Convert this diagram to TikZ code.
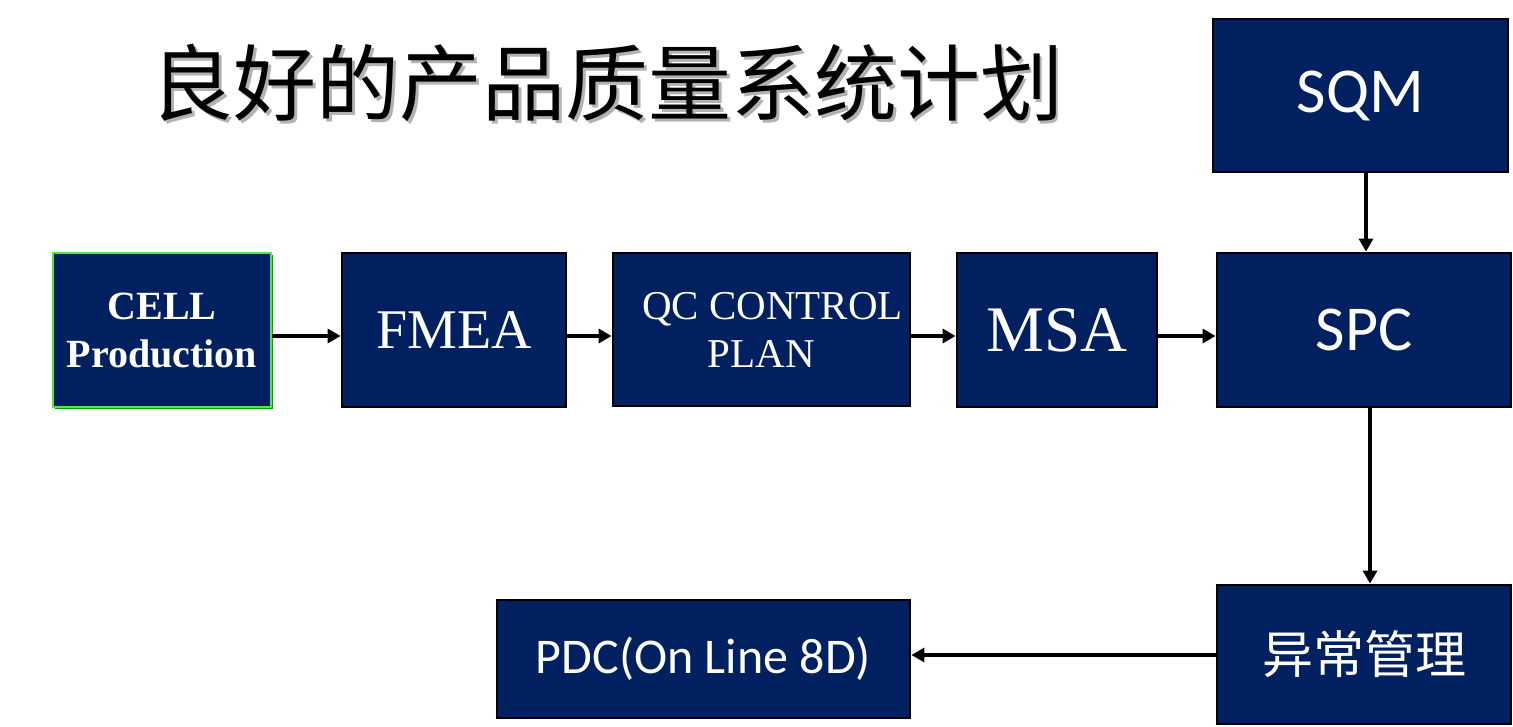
\documentclass[tikz,border=0pt]{standalone}
\usepackage{fontspec}
\setmainfont{Liberation Serif}
\newfontfamily\calfont{Carlito}
\newfontfamily\cjk{Noto Sans CJK SC}
\usetikzlibrary{arrows.meta}
\definecolor{boxblue}{RGB}{0,32,96}
\definecolor{lgreen}{RGB}{90,225,80}
\definecolor{dgreen}{RGB}{0,160,0}
\tikzset{
  blk/.style={draw=black, line width=2.8pt, fill=boxblue, text=white, inner sep=0pt, align=center},
  arr/.style={line width=3.5pt, -{Triangle[length=13pt,width=14pt]}},
}
\begin{document}
\begin{tikzpicture}[x=1pt,y=-1pt]
\useasboundingbox (0,0) rectangle (1513,726);
% title
\node[text=black!30, anchor=center, font=\cjk\fontsize{83}{90}\selectfont] (titleshadow) at (609.5,85.5) {良好的产品质量系统计划};
\node[text=black, anchor=center, font=\cjk\fontsize{83}{90}\selectfont] (title) at (607,83) {良好的产品质量系统计划};
% boxes
\node[blk, minimum width=295, minimum height=153, font=\calfont\fontsize{64}{70}\selectfont] (sqm) at (1360.5,95.5) {SQM};
\fill[dgreen] (55,255) rectangle (273,409);
\node[blk, draw=lgreen, line width=2pt, minimum width=218, minimum height=154, font=\bfseries\fontsize{40}{48}\selectfont] (cell) at (162,330) {CELL\\Production};
\node[blk, minimum width=224, minimum height=154, font=\fontsize{56}{60}\selectfont] (fmea) at (454,330) {FMEA};
\node[blk, minimum width=297, minimum height=153, font=\fontsize{41}{48}\selectfont] (qc) at (761.5,329.5) {\hspace*{22pt}QC CONTROL\\PLAN};
\node[blk, minimum width=200, minimum height=154, font=\fontsize{65}{70}\selectfont] (msa) at (1057,330) {MSA};
\node[blk, minimum width=294, minimum height=154, font=\calfont\fontsize{64}{70}\selectfont] (spc) at (1364,330) {SPC};
\node[blk, minimum width=294, minimum height=139, font=\cjk\fontsize{51}{56}\selectfont] (yc) at (1364,654.5) {异常管理};
\node[blk, minimum width=413, minimum height=118, font=\calfont\fontsize{50}{56}\selectfont] (pdc) at (703.5,659) {PDC(On Line 8D)};
% connectors
\coordinate (row) at (0,336);
\coordinate (low) at (0,655);
\draw[arr] (cell.east |- row) -- (fmea.west |- row);
\draw[arr] (fmea.east |- row) -- (qc.west |- row);
\draw[arr] (qc.east |- row) -- (msa.west |- row);
\draw[arr] (msa.east |- row) -- (spc.west |- row);
\draw[arr] ([xshift=5.5pt]sqm.south) -- ([xshift=2pt]spc.north);
\draw[arr] ([xshift=6pt]spc.south) -- ([xshift=6pt]yc.north);
\draw[arr] (yc.west |- low) -- (pdc.east |- low);
\end{tikzpicture}
\end{document}
